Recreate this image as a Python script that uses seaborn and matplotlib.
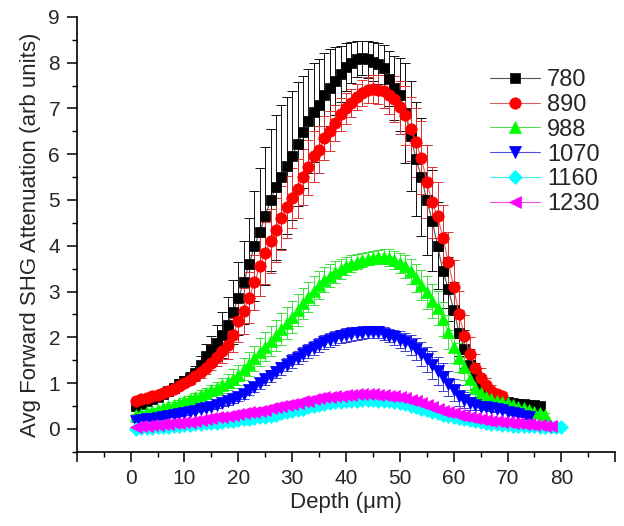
import numpy as np
import pandas as pd
import matplotlib
matplotlib.use('Agg')
import matplotlib.pyplot as plt
import seaborn as sns

# wavelengths (nm) shown in legend
labels = ['780', '890', '988', '1070', '1160', '1230']

# attenuation values, one point per micron of depth starting at 1 um
y780 = [0.50, 0.55, 0.60, 0.65, 0.70, 0.76, 0.83, 0.90, 0.98, 1.05,
        1.12, 1.22, 1.40, 1.60, 1.72, 1.88, 2.05, 2.28, 2.55, 2.85,
        3.20, 3.60, 4.00, 4.30, 4.65, 5.00, 5.28, 5.50, 5.75, 5.97,
        6.22, 6.48, 6.72, 6.92, 7.08, 7.30, 7.45, 7.60, 7.75, 7.90,
        8.00, 8.08, 8.10, 8.07, 8.02, 7.98, 7.88, 7.65, 7.45, 7.30,
        6.90, 6.40, 5.90, 5.50, 5.00, 4.55, 4.00, 3.45, 3.05, 2.60,
        2.10, 1.75, 1.40, 1.15, 0.95, 0.82, 0.72, 0.66, 0.62, 0.59,
        0.57, 0.55, 0.54, 0.53, 0.52, 0.51]
e780 = [0.05, 0.05, 0.05, 0.06, 0.06, 0.07, 0.08, 0.09, 0.10, 0.11,
        0.13, 0.16, 0.20, 0.25, 0.32, 0.40, 0.50, 0.60, 0.70, 0.80,
        0.90, 1.00, 1.20, 1.40, 1.50, 1.55, 1.58, 1.58, 1.50, 1.40,
        1.35, 1.22, 1.14, 1.08, 1.00, 0.92, 0.84, 0.74, 0.62, 0.52,
        0.45, 0.40, 0.38, 0.40, 0.42, 0.45, 0.50, 0.60, 0.70, 0.80,
        1.10, 1.20, 1.25, 1.28, 1.20, 1.10, 0.95, 0.80, 0.70, 0.60,
        0.50, 0.42, 0.35, 0.28, 0.22, 0.17, 0.13, 0.10, 0.08, 0.07,
        0.06, 0.06, 0.05, 0.05, 0.05, 0.05]

y890 = [0.62, 0.65, 0.68, 0.71, 0.75, 0.79, 0.83, 0.88, 0.94, 1.00,
        1.07, 1.15, 1.24, 1.33, 1.45, 1.57, 1.70, 1.83, 2.05, 2.35,
        2.58, 2.87, 3.20, 3.55, 3.85, 4.10, 4.35, 4.60, 4.84, 5.04,
        5.25, 5.50, 5.71, 5.95, 6.10, 6.35, 6.50, 6.68, 6.87, 7.00,
        7.12, 7.25, 7.34, 7.40, 7.42, 7.41, 7.37, 7.30, 7.20, 7.02,
        6.85, 6.56, 6.26, 5.92, 5.40, 4.95, 4.64, 4.18, 3.65, 3.09,
        2.50, 2.03, 1.63, 1.33, 1.12, 0.95, 0.83, 0.76, 0.72]
e890 = [0.04, 0.04, 0.04, 0.05, 0.05, 0.05, 0.06, 0.06, 0.07, 0.08,
        0.09, 0.10, 0.12, 0.14, 0.16, 0.20, 0.25, 0.30, 0.38, 0.45,
        0.50, 0.55, 0.60, 0.65, 0.68, 0.70, 0.70, 0.70, 0.68, 0.66,
        0.64, 0.62, 0.60, 0.56, 0.52, 0.48, 0.44, 0.40, 0.36, 0.33,
        0.30, 0.28, 0.28, 0.28, 0.30, 0.32, 0.36, 0.42, 0.50, 0.58,
        0.65, 0.70, 0.75, 0.80, 0.80, 0.78, 0.75, 0.70, 0.65, 0.60,
        0.52, 0.45, 0.38, 0.30, 0.22, 0.16, 0.12, 0.10, 0.08]

y988 = [0.30, 0.33, 0.36, 0.39, 0.42, 0.46, 0.50, 0.53, 0.57, 0.61,
        0.65, 0.70, 0.74, 0.79, 0.84, 0.89, 0.95, 1.02, 1.10, 1.18,
        1.30, 1.42, 1.54, 1.68, 1.80, 1.92, 2.05, 2.18, 2.32, 2.45,
        2.60, 2.74, 2.88, 3.02, 3.14, 3.26, 3.35, 3.43, 3.50, 3.56,
        3.61, 3.65, 3.69, 3.72, 3.74, 3.76, 3.76, 3.74, 3.69, 3.63,
        3.55, 3.44, 3.30, 3.15, 2.98, 2.80, 2.64, 2.40, 2.12, 1.80,
        1.56, 1.35, 1.10, 0.90, 0.78, 0.70, 0.65, 0.61, 0.58, 0.56,
        0.53, 0.49, 0.45, 0.41, 0.38, 0.34, 0.30]
e988 = [0.03, 0.03, 0.03, 0.04, 0.04, 0.05, 0.05, 0.06, 0.06, 0.07,
        0.08, 0.09, 0.10, 0.11, 0.12, 0.14, 0.16, 0.18, 0.20, 0.22,
        0.24, 0.26, 0.28, 0.30, 0.32, 0.33, 0.34, 0.35, 0.35, 0.35,
        0.35, 0.34, 0.33, 0.32, 0.30, 0.28, 0.26, 0.24, 0.22, 0.20,
        0.18, 0.16, 0.15, 0.14, 0.14, 0.15, 0.16, 0.18, 0.20, 0.22,
        0.25, 0.28, 0.30, 0.33, 0.35, 0.37, 0.38, 0.38, 0.37, 0.35,
        0.32, 0.28, 0.24, 0.20, 0.16, 0.12, 0.10, 0.08, 0.07, 0.06,
        0.05, 0.05, 0.05, 0.05, 0.05, 0.05, 0.05]

y1070 = [0.18, 0.19, 0.21, 0.22, 0.24, 0.26, 0.28, 0.30, 0.32, 0.34,
         0.37, 0.40, 0.43, 0.46, 0.49, 0.52, 0.56, 0.60, 0.65, 0.70,
         0.76, 0.84, 0.92, 1.00, 1.08, 1.16, 1.24, 1.32, 1.40, 1.48,
         1.56, 1.63, 1.70, 1.77, 1.84, 1.90, 1.95, 1.99, 2.02, 2.05,
         2.07, 2.09, 2.10, 2.11, 2.12, 2.11, 2.08, 2.04, 2.00, 1.95,
         1.90, 1.83, 1.74, 1.64, 1.52, 1.40, 1.27, 1.13, 0.99, 0.85,
         0.73, 0.63, 0.56, 0.52, 0.49, 0.47, 0.45, 0.43, 0.41, 0.38,
         0.35, 0.32, 0.29, 0.26]
e1070 = [0.02, 0.02, 0.02, 0.02, 0.02, 0.03, 0.03, 0.03, 0.03, 0.03,
         0.03, 0.04, 0.04, 0.05, 0.05, 0.06, 0.06, 0.07, 0.08, 0.09,
         0.10, 0.10, 0.11, 0.12, 0.12, 0.13, 0.13, 0.14, 0.14, 0.15,
         0.15, 0.15, 0.15, 0.15, 0.15, 0.15, 0.15, 0.15, 0.15, 0.15,
         0.15, 0.14, 0.14, 0.13, 0.13, 0.13, 0.14, 0.15, 0.16, 0.18,
         0.20, 0.22, 0.24, 0.26, 0.28, 0.30, 0.30, 0.30, 0.28, 0.25,
         0.22, 0.18, 0.14, 0.10, 0.08, 0.06, 0.05, 0.05, 0.04, 0.04,
         0.04, 0.04, 0.04, 0.04]

y1160 = [0.00, 0.01, 0.02, 0.03, 0.04, 0.05, 0.05, 0.06, 0.07, 0.08,
         0.09, 0.10, 0.11, 0.12, 0.13, 0.14, 0.16, 0.17, 0.18, 0.20,
         0.21, 0.22, 0.24, 0.26, 0.27, 0.29, 0.31, 0.34, 0.36, 0.39,
         0.42, 0.44, 0.47, 0.50, 0.52, 0.54, 0.56, 0.58, 0.59, 0.60,
         0.61, 0.62, 0.63, 0.63, 0.63, 0.62, 0.61, 0.60, 0.58, 0.56,
         0.54, 0.51, 0.48, 0.44, 0.41, 0.37, 0.34, 0.31, 0.28, 0.26,
         0.23, 0.21, 0.19, 0.17, 0.15, 0.13, 0.11, 0.10, 0.09, 0.08,
         0.07, 0.07, 0.06, 0.06, 0.06, 0.05, 0.05, 0.05, 0.05, 0.05]
e1160 = [0.02, 0.02, 0.02, 0.02, 0.02, 0.02, 0.02, 0.02, 0.03, 0.03,
         0.03, 0.03, 0.03, 0.03, 0.03, 0.03, 0.04, 0.04, 0.04, 0.04,
         0.04, 0.04, 0.04, 0.05, 0.05, 0.05, 0.05, 0.05, 0.05, 0.05,
         0.05, 0.05, 0.05, 0.05, 0.05, 0.05, 0.05, 0.05, 0.05, 0.05,
         0.05, 0.05, 0.05, 0.05, 0.05, 0.05, 0.05, 0.05, 0.05, 0.05,
         0.05, 0.05, 0.05, 0.05, 0.05, 0.05, 0.05, 0.04, 0.04, 0.04,
         0.04, 0.04, 0.04, 0.03, 0.03, 0.03, 0.03, 0.03, 0.02, 0.02,
         0.02, 0.02, 0.02, 0.02, 0.02, 0.02, 0.02, 0.02, 0.02, 0.02]

y1230 = [0.05, 0.06, 0.07, 0.08, 0.09, 0.10, 0.11, 0.12, 0.13, 0.15,
         0.16, 0.18, 0.20, 0.21, 0.23, 0.25, 0.27, 0.29, 0.30, 0.32,
         0.34, 0.36, 0.38, 0.40, 0.42, 0.45, 0.47, 0.50, 0.52, 0.55,
         0.57, 0.60, 0.62, 0.65, 0.67, 0.69, 0.70, 0.72, 0.73, 0.74,
         0.75, 0.76, 0.76, 0.76, 0.76, 0.75, 0.74, 0.73, 0.71, 0.69,
         0.67, 0.64, 0.60, 0.56, 0.52, 0.48, 0.44, 0.40, 0.37, 0.34,
         0.31, 0.28, 0.26, 0.24, 0.22, 0.20, 0.18, 0.17, 0.16, 0.15,
         0.13, 0.12, 0.11, 0.10, 0.09, 0.08, 0.07, 0.06]
e1230 = [0.02, 0.02, 0.02, 0.02, 0.02, 0.02, 0.02, 0.03, 0.03, 0.03,
         0.03, 0.03, 0.03, 0.03, 0.04, 0.04, 0.04, 0.04, 0.04, 0.04,
         0.04, 0.05, 0.05, 0.05, 0.05, 0.05, 0.05, 0.05, 0.05, 0.05,
         0.05, 0.05, 0.05, 0.05, 0.05, 0.05, 0.05, 0.05, 0.05, 0.05,
         0.05, 0.05, 0.05, 0.05, 0.05, 0.05, 0.05, 0.05, 0.05, 0.05,
         0.05, 0.05, 0.05, 0.05, 0.05, 0.05, 0.04, 0.04, 0.04, 0.04,
         0.04, 0.04, 0.03, 0.03, 0.03, 0.03, 0.03, 0.03, 0.02, 0.02,
         0.02, 0.02, 0.02, 0.02, 0.02, 0.02, 0.02, 0.02]

series_y = [y780, y890, y988, y1070, y1160, y1230]
series_e = [e780, e890, e988, e1070, e1160, e1230]

colors = ['#000000', '#ff0000', '#00ff00', '#0000ff', '#00ffff', '#ff00ff']
line_colors = ['#555555', '#e06060', '#50e050', '#5050e0', '#40e8e8', '#e850e8']
err_colors = ['#111111', '#e03030', '#40e040', '#4040d0', '#30e0e0', '#e040e0']
markers = ['s', 'o', '^', 'v', 'D', '<']
msizes = [7.2, 8.2, 8.5, 8.5, 6.8, 8.5]

sns.set_style('ticks')
plt.rcParams['font.family'] = ['Liberation Sans', 'DejaVu Sans']

fig = plt.figure(figsize=(6.24, 5.26), dpi=100)
ax = fig.add_axes([0.123, 0.141, 0.863, 0.827])

for lab, yv, ev, c, lc, ec, m, ms in zip(labels, series_y, series_e, colors,
                                          line_colors, err_colors, markers, msizes):
    depth = np.arange(1, len(yv) + 1)
    df = pd.DataFrame({'depth': depth, 'val': yv})
    ax.errorbar(depth, yv, yerr=ev, fmt='none', ecolor=ec, elinewidth=0.7,
                capsize=3.5, capthick=0.7, zorder=2)
    sns.lineplot(data=df, x='depth', y='val', ax=ax, color=lc, linewidth=0.8,
                 marker=m, markersize=ms, markerfacecolor=c, markeredgecolor=c,
                 markeredgewidth=0.5, label=lab, zorder=3)

ax.set_xlim(-10, 90)
ax.set_ylim(-0.5, 9)
ax.set_xticks(np.arange(-10, 91, 10))
ax.set_xticklabels([''] + [str(v) for v in range(0, 81, 10)] + [''])
ax.set_xticks(np.arange(-5, 90, 10), minor=True)
ax.set_yticks(np.arange(0, 10, 1))
ax.set_yticks(np.arange(-0.5, 9, 1), minor=True)

sns.despine(ax=ax)
for sp in ['left', 'bottom']:
    ax.spines[sp].set_linewidth(1.2)
    ax.spines[sp].set_color('black')
ax.tick_params(which='major', length=7, width=1.1, labelsize=15, pad=5, color='black')
ax.tick_params(which='minor', length=3.5, width=1.0, color='black')

ax.set_xlabel('Depth (μm)', fontsize=16, labelpad=3)
ax.set_ylabel('Avg Forward SHG Attenuation (arb units)', fontsize=16, labelpad=5)

ax.legend(loc='upper left', bbox_to_anchor=(0.768, 0.88), frameon=False,
          fontsize=17, handlelength=2.1, handletextpad=0.3, labelspacing=0.12,
          borderpad=0, borderaxespad=0)

fig.savefig('out.png', dpi=100)
